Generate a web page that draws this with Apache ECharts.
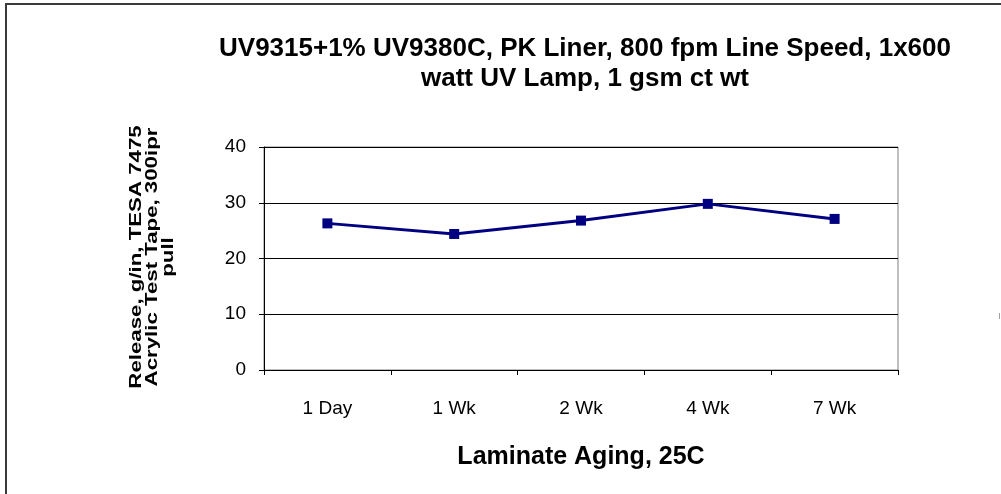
<!DOCTYPE html>
<html><head><meta charset="utf-8">
<script src="https://cdn.jsdelivr.net/npm/echarts@6/dist/echarts.min.js"></script>
<style>html,body{margin:0;padding:0;background:#fff;}#c{width:1001px;height:494px;}</style>
</head><body><div id="c"></div>
<script>
const categories = ['1 Day', '1 Wk', '2 Wk', '4 Wk', '7 Wk'];
const releaseValues = [26.3, 24.4, 26.8, 29.8, 27.1];
const yTicks = [0, 10, 20, 30, 40];
const titleLines = ['UV9315+1% UV9380C, PK Liner, 800 fpm Line Speed, 1x600', 'watt UV Lamp, 1 gsm ct wt'];
const yAxisTitle = ['Release, g/in, TESA 7475', 'Acrylic Test Tape, 300ipr', 'pull'];
const xAxisTitle = 'Laminate Aging, 25C';

const chart = echarts.init(document.getElementById('c'), null, {renderer: 'canvas'});
const F = 'Liberation Sans, Arial, sans-serif';
chart.setOption({
  animation: false,
  backgroundColor: '#fff',
  title: {
    text: titleLines.join('\n'),
    left: 580, top: 29, textAlign: 'center',
    textStyle: {fontFamily: F, fontSize: 26, fontWeight: 'bold', color: '#000', lineHeight: 30}
  },
  grid: {left: 264, right: 1001 - 898, top: 147, bottom: 494 - 370, containLabel: false, show: true, borderColor: '#808080', borderWidth: 1},
  xAxis: {
    type: 'category', data: categories, boundaryGap: true,
    name: xAxisTitle, nameLocation: 'middle', nameGap: 75,
    nameTextStyle: {fontFamily: F, fontSize: 25, fontWeight: 'bold', color: '#000'},
    axisLine: {lineStyle: {color: '#000', width: 1}},
    axisTick: {show: true, length: 5, lineStyle: {color: '#000'}},
    axisLabel: {fontFamily: F, fontSize: 19, color: '#000', margin: 29},
    splitLine: {show: false}
  },
  yAxis: {
    type: 'value', min: 0, max: 40, interval: 10,
    axisLine: {show: true, lineStyle: {color: '#000', width: 1}},
    axisTick: {show: true, length: 5, lineStyle: {color: '#000'}},
    axisLabel: {fontFamily: F, fontSize: 19, color: '#000', margin: 18,
      formatter: v => yTicks.includes(v) ? String(v) : ''},
    splitLine: {show: true, lineStyle: {color: '#000', width: 1}}
  },
  series: [{
    type: 'line', data: releaseValues,
    symbol: 'rect', symbolSize: 10,
    lineStyle: {color: '#000080', width: 3},
    itemStyle: {color: '#000080'}
  }],
  graphic: [
    {type: 'rect', shape: {x: 6, y: 4, width: 1100, height: 600}, style: {fill: 'none', stroke: '#3a3a3a', lineWidth: 2}, silent: true},
    {type: 'rect', shape: {x: 999, y: 313, width: 1, height: 6}, style: {fill: '#a0a0a0'}, silent: true},
    {type: 'text', x: 153, y: 257, rotation: Math.PI / 2, scaleX: 1.39, silent: true,
     style: {text: yAxisTitle.join('\n'), fontFamily: F, fontSize: 16, fontWeight: 'bold', fill: '#000',
             lineHeight: 16, align: 'center', verticalAlign: 'middle'}}
  ]
});
</script></body></html>
